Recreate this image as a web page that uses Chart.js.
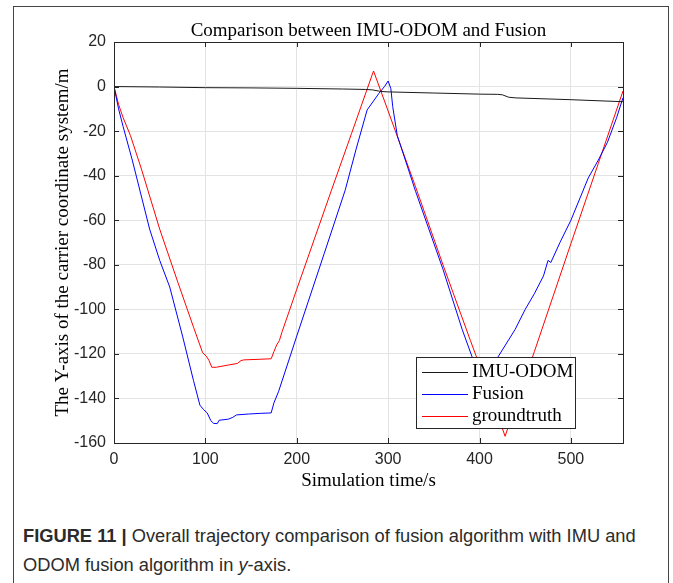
<!DOCTYPE html>
<html>
<head>
<meta charset="utf-8">
<script src="https://cdn.jsdelivr.net/npm/chart.js@4.4.0/dist/chart.umd.min.js"></script>
<style>
  html, body { margin: 0; padding: 0; background: #fff; }
  #wrap { position: relative; width: 673px; height: 583px; overflow: hidden; }
  #frame { position: absolute; left: 13px; top: 6px; width: 654px; height: 600px; border: 1px solid #444; border-bottom: none; }
  #chart { position: absolute; left: 0; top: 0; }
  #caption { position: absolute; left: 23px; top: 521px; font-family: 'Liberation Sans', Arial, sans-serif; font-size: 18.3px; line-height: 29px; color: #2b2b2b; white-space: nowrap; }
</style>
</head>
<body>
<div id="wrap">
  <div id="frame"></div>
  <canvas id="chart" width="673" height="500"></canvas>
  <div id="caption"><b>FIGURE 11 |</b> Overall trajectory comparison of fusion algorithm with IMU and<br>ODOM fusion algorithm in <i>y</i>-axis.</div>
</div>
<script>
// values (time in s, Y in m)
var imuTime = [0, 50, 100, 150, 200, 250, 275, 283, 292, 300, 350, 400, 420, 425, 432, 440, 500, 557]
var imuY = [0, -0.2, -0.5, -0.6, -0.8, -1.1, -1.3, -1.5, -2.2, -2.4, -2.9, -3.4, -3.5, -3.7, -4.8, -5.1, -5.9, -6.8]

var fusionTime = [0, 5, 10, 20, 39, 50, 61, 75, 87, 94, 98, 102, 106, 109, 113, 115, 125, 130, 134, 147, 160, 172, 175, 180, 200, 230, 253, 265, 277, 290, 296, 300, 303, 305, 310, 330, 360, 381, 392, 400, 407, 413, 420, 439, 450, 460, 470, 475, 478, 488, 500, 510, 519, 530, 540, 550, 557]
var fusionY = [0, -10, -18, -33, -64, -78, -90, -112, -132, -143, -145, -146.5, -150, -151.2, -151.3, -149.8, -149.3, -148.5, -147.4, -147, -146.7, -146.5, -142, -137, -112, -75, -46.5, -28, -10.5, -3, 0, 2.5, -1, -9, -22, -47, -82, -109, -121.5, -127, -130, -128, -121.5, -109, -100, -93, -85, -78, -79, -70, -60, -50, -41, -33, -25, -14, -5]

var truthTime = [0, 5, 10, 18, 30, 50, 70, 87, 97, 101, 104, 107, 112, 125, 135, 139, 142, 160, 172, 175, 178, 181, 184, 200, 238, 260, 284, 300, 330, 360, 390, 410, 428, 432, 460, 500, 530, 557]
var truthY = [0, -8, -14, -22, -37, -64, -88, -108, -119.5, -121, -123, -126, -126, -125, -124.3, -123, -122.7, -122.4, -122.2, -119, -116, -114, -110, -91, -46.5, -21, 7, -11, -45, -80, -114, -136, -157, -152, -119, -70.5, -34.5, -2]

var xTickValues = [0, 100, 200, 300, 400, 500]
var yTickValues = [-160, -140, -120, -100, -80, -60, -40, -20, 0, 20]
var chartTitle = 'Comparison between IMU-ODOM and Fusion'

function pts(t, y) {
    return t.map(function (v, i) { return {x: v, y: y[i]} })
}

var serif = "'Liberation Serif', 'Times New Roman', serif"
var sans = "'Liberation Sans', Arial, sans-serif"
var axisColor = '#262626'

// axes box + inward tick marks, like matlab
var boxPlugin = {
    id: 'box',
    afterDatasetsDraw: function (chart) {
        var ctx = chart.ctx, a = chart.chartArea
        var xs = chart.scales.x, ys = chart.scales.y
        ctx.save()
        ctx.strokeStyle = axisColor
        ctx.lineWidth = 1
        ctx.beginPath()
        xs.ticks.forEach(function (t) {
            var px = Math.round(xs.getPixelForValue(t.value)) + 0.5
            ctx.moveTo(px, a.bottom); ctx.lineTo(px, a.bottom - 5)
            ctx.moveTo(px, a.top); ctx.lineTo(px, a.top + 5)
        })
        ys.ticks.forEach(function (t) {
            var py = Math.round(ys.getPixelForValue(t.value)) + 0.5
            ctx.moveTo(a.left, py); ctx.lineTo(a.left + 5, py)
            ctx.moveTo(a.right, py); ctx.lineTo(a.right - 5, py)
        })
        ctx.stroke()
        ctx.strokeRect(Math.round(a.left) + 0.5, Math.round(a.top) + 0.5, Math.round(a.right - a.left), Math.round(a.bottom - a.top))

        // title centred over the axes, not the canvas
        ctx.font = '19px ' + serif
        ctx.fillStyle = '#000'
        ctx.textAlign = 'center'
        ctx.textBaseline = 'middle'
        ctx.fillText(chartTitle, (a.left + a.right) / 2, 31.5)
        ctx.restore()
    }
}

// legend box inside the plot, lower right
var legendPlugin = {
    id: 'innerLegend',
    afterDraw: function (chart) {
        var ctx = chart.ctx
        var x0 = 416, y0 = 357, w = 159, h = 71
        ctx.save()
        ctx.fillStyle = '#fff'
        ctx.fillRect(x0, y0, w, h)
        ctx.strokeStyle = axisColor
        ctx.lineWidth = 1
        ctx.strokeRect(x0 + 0.5, y0 + 0.5, w, h)
        ctx.font = '19px ' + serif
        ctx.textBaseline = 'middle'
        ctx.fillStyle = '#000'
        chart.data.datasets.forEach(function (ds, i) {
            var yy = y0 + 15 + i * 22 + 0.5
            ctx.strokeStyle = ds.borderColor
            ctx.beginPath()
            ctx.moveTo(x0 + 6, yy); ctx.lineTo(x0 + 52, yy)
            ctx.stroke()
            ctx.fillText(ds.label, x0 + 56, yy)
        })
        ctx.restore()
    }
}

var ctx = document.getElementById('chart').getContext('2d')
var chart = new Chart(ctx, {
    type: 'line',
    data: {
        datasets: [
            {label: 'IMU-ODOM', data: pts(imuTime, imuY), borderColor: '#1a1a1a', borderWidth: 1, pointRadius: 0, tension: 0},
            {label: 'Fusion', data: pts(fusionTime, fusionY), borderColor: '#0000ff', borderWidth: 1, pointRadius: 0, tension: 0},
            {label: 'groundtruth', data: pts(truthTime, truthY), borderColor: '#ff0000', borderWidth: 1, pointRadius: 0, tension: 0}
        ]
    },
    options: {
        responsive: false,
        animation: false,
        devicePixelRatio: 1,
        layout: {padding: {left: 0, right: 50, top: 42, bottom: 0}},
        plugins: {
            legend: {display: false},
            tooltip: {enabled: false},
            title: {display: false}
        },
        scales: {
            x: {
                type: 'linear',
                min: 0,
                max: 557,
                afterBuildTicks: function (s) { s.ticks = xTickValues.map(function (v) { return {value: v} }) },
                afterFit: function (s) { s.height = 57 },
                grid: {color: '#e3e3e3', drawTicks: false},
                border: {display: false},
                ticks: {color: axisColor, font: {family: sans, size: 16, lineHeight: 1}, padding: 9, maxRotation: 0},
                title: {display: true, text: 'Simulation time/s', color: '#000', font: {family: serif, size: 19, lineHeight: 1}, padding: {top: 0, bottom: 9.5}}
            },
            y: {
                min: -160,
                max: 20,
                afterBuildTicks: function (s) { s.ticks = yTickValues.map(function (v) { return {value: v} }) },
                afterFit: function (s) { s.width = 114 },
                grid: {color: '#e3e3e3', drawTicks: false},
                border: {display: false},
                ticks: {color: axisColor, font: {family: sans, size: 16, lineHeight: 1}, padding: 8},
                title: {display: true, text: 'The Y-axis of the carrier coordinate system/m', color: '#000', font: {family: serif, size: 19, lineHeight: 1}, padding: {top: 54, bottom: 0}}
            }
        }
    },
    plugins: [boxPlugin, legendPlugin]
})
</script>
</body>
</html>
